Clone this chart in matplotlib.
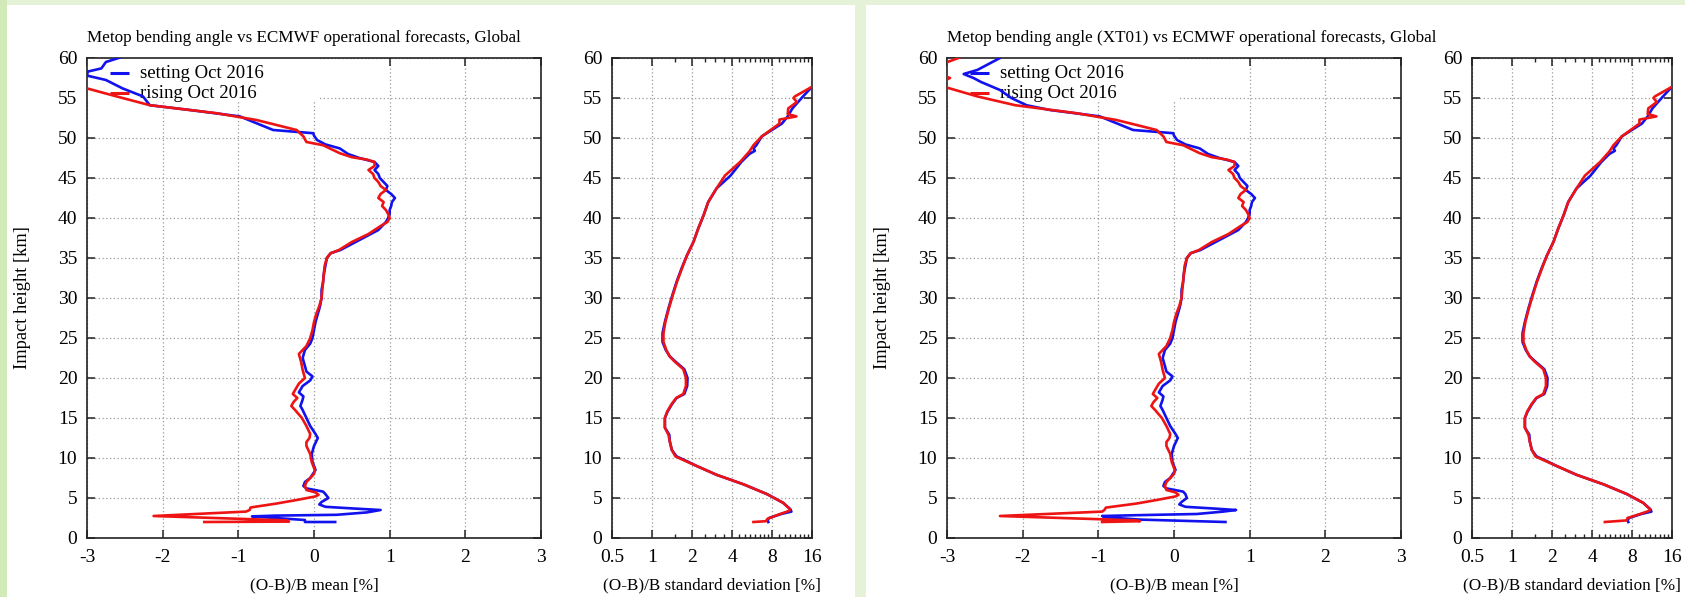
import matplotlib
matplotlib.use("Agg")
import matplotlib.pyplot as plt
from matplotlib.patches import Rectangle
from matplotlib.ticker import FixedLocator, NullFormatter, FixedFormatter

plt.rcParams['font.family'] = ['Liberation Serif', 'DejaVu Serif']

W, H = 1685, 597

# ---------------- data ----------------
titles = ["Metop bending angle vs ECMWF operational forecasts, Global",
          "Metop bending angle (XT01) vs ECMWF operational forecasts, Global"]
series_labels = ["setting Oct 2016", "rising Oct 2016"]
mean_xticks = [-3, -2, -1, 0, 1, 2, 3]
std_xticks = [0.5, 1, 2, 4, 8, 16]
std_xticklabels = ["0.5", "1", "2", "4", "8", "16"]
std_minor_ticks = [1.5, 2.5, 3, 3.5, 4.5, 5, 5.5, 6, 6.5, 7, 7.5, 9, 10, 11, 12, 13, 14, 15]
yticks = list(range(0, 61, 5))

# Panel 1 - setting (blue) mean
p1_set_mean_h = [2.0, 2.0, 2.25, 2.7, 2.8, 2.9, 3.2, 3.5, 3.7, 3.9, 4.2, 4.5, 5.0, 5.5, 5.8, 6.2, 6.5,
                 7.0, 7.5, 8.5, 9.5, 10.5, 11.5, 12.5, 13.0, 14.0, 15.0, 16.0, 16.5, 17.3, 17.7, 18.2,
                 19.0, 19.7, 20.2, 20.8, 21.5, 22.5, 23.5, 24.3, 25.0, 26.0, 27.0, 28.0, 29.0, 30.0,
                 31.0, 32.0, 33.0, 34.0, 35.0, 35.6, 36.0, 36.5, 37.0, 37.5, 38.0, 38.5, 39.0, 39.5,
                 40.0, 40.5, 41.0, 41.5, 42.0, 42.5, 43.0, 43.5, 44.0, 44.5, 45.0, 45.5, 46.0, 46.5,
                 47.0, 47.5, 48.0, 48.7, 49.2, 49.75, 50.3, 50.6, 51.0, 52.0, 52.7, 53.5, 54.1, 55.2,
                 56.2, 57.25, 57.8, 58.3, 58.7, 59.5, 60.1]
p1_set_mean_v = [0.28, -0.12, -0.12, -0.82, -0.5, 0.3, 0.7, 0.88, 0.5, 0.15, 0.07, 0.1, 0.19, 0.15, 0.12,
                 -0.1, -0.14, -0.12, -0.05, 0.02, -0.02, -0.03, 0.0, 0.05, 0.02, -0.05, -0.1, -0.15,
                 -0.18, -0.15, -0.14, -0.2, -0.15, -0.05, -0.02, -0.1, -0.12, -0.15, -0.12, -0.05,
                 -0.02, 0.0, 0.02, 0.05, 0.08, 0.1, 0.1, 0.12, 0.13, 0.15, 0.17, 0.22, 0.35, 0.45,
                 0.55, 0.65, 0.75, 0.85, 0.9, 0.95, 0.98, 1.0, 1.0, 1.02, 1.03, 1.07, 1.02, 0.95,
                 0.97, 0.92, 0.87, 0.85, 0.8, 0.85, 0.8, 0.6, 0.45, 0.34, 0.15, 0.04, 0.0, -0.01,
                 -0.54, -0.8, -0.98, -1.64, -2.17, -2.26, -2.53, -2.75, -3.0, -2.99, -2.81, -2.75, -2.55]

# Panel 1 - rising (red) mean
p1_rise_mean_h = [2.0, 2.05, 2.2, 2.75, 3.3, 3.5, 3.8, 3.9, 4.3, 4.8, 5.2, 5.4, 5.7, 6.0, 6.5, 7.0, 7.5,
                  8.0, 8.5, 9.5, 10.5, 11.5, 12.0, 12.5, 13.0, 14.0, 15.0, 16.0, 16.5, 17.0, 17.5,
                  18.0, 18.5, 19.3, 20.0, 21.0, 22.0, 23.0, 24.0, 25.0, 26.0, 27.0, 28.0, 29.0, 30.0,
                  32.0, 34.0, 35.0, 35.6, 36.0, 37.0, 38.0, 39.0, 39.5, 40.0, 40.5, 41.0, 41.5, 42.0,
                  42.5, 43.0, 43.5, 44.0, 44.5, 45.0, 45.5, 46.0, 46.5, 47.0, 47.3, 47.6, 48.1, 49.1,
                  49.5, 50.2, 51.0, 52.25, 53.1, 54.1, 55.2, 56.2, 56.8]
p1_rise_mean_v = [-1.45, -0.33, -0.35, -2.12, -0.9, -0.85, -0.84, -0.78, -0.5, -0.2, 0.02, 0.06, 0.02,
                  -0.1, -0.12, -0.1, -0.05, 0.0, 0.01, -0.03, -0.05, -0.1, -0.1, -0.06, -0.05, -0.1,
                  -0.16, -0.25, -0.3, -0.27, -0.22, -0.28, -0.25, -0.2, -0.12, -0.15, -0.17, -0.2,
                  -0.1, -0.05, -0.02, 0.0, 0.03, 0.07, 0.1, 0.12, 0.14, 0.17, 0.22, 0.33, 0.5, 0.72,
                  0.88, 0.97, 1.0, 0.98, 0.95, 0.9, 0.92, 0.85, 0.88, 0.95, 0.88, 0.85, 0.8, 0.78,
                  0.72, 0.8, 0.8, 0.7, 0.5, 0.34, 0.12, -0.1, -0.14, -0.23, -0.76, -1.29, -2.17,
                  -2.61, -3.0, -3.2]

# Panel 1 - std
p1_set_std_h = [2.0, 2.2, 2.5, 3.0, 3.3, 3.6, 4.4, 5.5, 6.7, 7.9, 9.0, 9.6, 10.2, 11.0, 12.1, 12.9,
                13.8, 15.0, 15.8, 16.7, 17.5, 18.0, 19.0, 20.0, 21.1, 22.1, 22.7, 23.5, 24.5, 25.6,
                27.0, 28.7, 30.3, 32.0, 33.7, 35.3, 37.0, 38.7, 40.3, 42.0, 43.7, 45.3, 47.0, 48.0,
                48.4, 48.7, 49.1, 50.2, 51.8, 52.7, 53.7, 55.2, 56.4]
p1_set_std_v = [7.5, 7.4, 7.6, 9.4, 11.2, 11.0, 9.7, 7.3, 4.9, 3.06, 2.17, 1.83, 1.53, 1.41, 1.36,
                1.35, 1.25, 1.25, 1.31, 1.41, 1.53, 1.75, 1.84, 1.85, 1.75, 1.49, 1.36, 1.27, 1.2,
                1.2, 1.25, 1.33, 1.42, 1.53, 1.67, 1.83, 2.05, 2.23, 2.44, 2.65, 3.06, 3.9, 4.7,
                5.4, 5.95, 5.8, 6.1, 6.7, 9.5, 10.5, 11.4, 13.7, 16.0]
p1_rise_std_h = [2.0, 2.1, 2.4, 3.0, 3.4, 3.6, 4.4, 5.5, 6.7, 7.9, 9.0, 9.6, 10.2, 11.0, 12.1, 12.9,
                 13.8, 15.0, 15.8, 16.7, 17.5, 18.0, 19.0, 20.0, 21.1, 22.1, 22.7, 23.5, 24.5, 25.6,
                 27.0, 28.7, 30.3, 32.0, 33.7, 35.3, 37.0, 38.7, 40.3, 42.0, 43.7, 45.3, 47.0, 48.3,
                 49.1, 50.2, 51.8, 52.3, 52.7, 53.0, 53.7, 54.5, 55.0, 55.2, 56.4]
p1_rise_std_v = [5.8, 7.2, 7.4, 9.2, 10.8, 10.9, 9.7, 7.3, 4.9, 3.06, 2.17, 1.8, 1.5, 1.41, 1.36,
                 1.33, 1.25, 1.25, 1.3, 1.4, 1.52, 1.72, 1.8, 1.8, 1.72, 1.47, 1.36, 1.28, 1.22,
                 1.22, 1.26, 1.34, 1.43, 1.54, 1.68, 1.83, 2.05, 2.23, 2.44, 2.65, 3.06, 3.54, 4.6,
                 5.4, 5.8, 6.7, 9.1, 9.1, 12.2, 10.5, 10.6, 12.3, 11.6, 11.9, 16.0]

# Panel 2 - setting (blue) mean
p2_set_mean_h = [2.0, 2.3, 2.6, 2.75, 2.85, 3.0, 3.3, 3.5, 3.7, 3.9, 4.2, 4.5, 5.0, 5.5, 5.8, 6.2, 6.5,
                 7.0, 7.5, 8.5, 9.5, 10.5, 11.5, 12.5, 13.0, 14.0, 15.0, 16.0, 16.5, 17.3, 17.7, 18.2,
                 19.0, 19.7, 20.2, 20.8, 21.5, 22.5, 23.5, 24.3, 25.0, 26.0, 27.0, 28.0, 29.0, 30.0,
                 31.0, 32.0, 33.0, 34.0, 35.0, 35.6, 36.0, 36.5, 37.0, 37.5, 38.0, 38.5, 39.0, 39.5,
                 40.0, 40.5, 41.0, 41.5, 42.0, 42.5, 43.0, 43.5, 44.0, 44.5, 45.0, 45.5, 46.0, 46.5,
                 47.0, 47.5, 48.0, 48.7, 49.2, 49.75, 50.3, 50.6, 51.0, 52.0, 52.7, 53.5, 54.1, 55.0,
                 56.0, 57.0, 57.5, 58.0, 58.5, 59.0, 59.5, 60.0]
p2_set_mean_v = [0.68, -0.45, -0.9, -0.95, -0.5, 0.3, 0.65, 0.82, 0.5, 0.15, 0.07, 0.1, 0.17, 0.15, 0.12,
                 -0.1, -0.14, -0.12, -0.05, 0.02, -0.02, -0.03, 0.0, 0.05, 0.02, -0.05, -0.1, -0.15,
                 -0.18, -0.15, -0.14, -0.2, -0.15, -0.05, -0.02, -0.1, -0.12, -0.15, -0.12, -0.05,
                 -0.02, 0.0, 0.02, 0.05, 0.08, 0.1, 0.1, 0.12, 0.13, 0.15, 0.17, 0.22, 0.35, 0.45,
                 0.55, 0.65, 0.75, 0.85, 0.9, 0.95, 0.98, 1.0, 1.0, 1.02, 1.03, 1.07, 1.02, 0.95,
                 0.97, 0.92, 0.87, 0.85, 0.8, 0.85, 0.8, 0.6, 0.45, 0.34, 0.15, 0.04, 0.0, -0.01,
                 -0.54, -0.8, -0.98, -1.64, -1.95, -2.15, -2.3, -2.55, -2.65, -2.78, -2.6, -2.5,
                 -2.4, -2.3]

# Panel 2 - rising (red) mean
p2_rise_mean_h = [2.0, 2.1, 2.2, 2.75, 3.3, 3.5, 3.8, 3.9, 4.3, 4.8, 5.2, 5.4, 5.7, 6.0, 6.5, 7.0, 7.5,
                  8.0, 8.5, 9.5, 10.5, 11.5, 12.0, 12.5, 13.0, 14.0, 15.0, 16.0, 16.5, 17.0, 17.5,
                  18.0, 18.5, 19.3, 20.0, 21.0, 22.0, 23.0, 24.0, 25.0, 26.0, 27.0, 28.0, 29.0, 30.0,
                  32.0, 34.0, 35.0, 35.6, 36.0, 37.0, 38.0, 39.0, 39.5, 40.0, 40.5, 41.0, 41.5, 42.0,
                  42.5, 43.0, 43.5, 44.0, 44.5, 45.0, 45.5, 46.0, 46.5, 47.0, 47.3, 47.6, 48.1, 49.1,
                  49.5, 50.2, 51.0, 52.25, 53.1, 54.1, 55.2, 56.3, 56.9, 57.5, 58.0, 58.8, 59.3, 60.1]
p2_rise_mean_v = [-0.95, -0.45, -0.5, -2.3, -0.95, -0.92, -0.9, -0.82, -0.5, -0.2, 0.02, 0.06, 0.02,
                  -0.1, -0.12, -0.1, -0.05, 0.0, 0.01, -0.03, -0.05, -0.1, -0.1, -0.06, -0.05, -0.1,
                  -0.16, -0.25, -0.3, -0.27, -0.22, -0.28, -0.25, -0.2, -0.12, -0.15, -0.17, -0.2,
                  -0.1, -0.05, -0.02, 0.0, 0.03, 0.07, 0.1, 0.12, 0.14, 0.17, 0.22, 0.33, 0.5, 0.72,
                  0.88, 0.97, 1.0, 0.98, 0.95, 0.9, 0.92, 0.85, 0.88, 0.95, 0.88, 0.85, 0.8, 0.78,
                  0.72, 0.8, 0.8, 0.7, 0.5, 0.34, 0.12, -0.1, -0.14, -0.23, -0.76, -1.29, -2.1,
                  -2.6, -3.0, -3.1, -2.96, -3.1, -3.3, -3.05, -2.82]

# Panel 2 - std
p2_set_std_h = p1_set_std_h
p2_set_std_v = p1_set_std_v
p2_rise_std_h = [2.0, 2.2, 2.5, 3.0, 3.4, 3.6, 4.4, 5.5, 6.7, 7.9, 9.0, 9.6, 10.2, 11.0, 12.1, 12.9,
                 13.8, 15.0, 15.8, 16.7, 17.5, 18.0, 19.0, 20.0, 21.1, 22.1, 22.7, 23.5, 24.5, 25.6,
                 27.0, 28.7, 30.3, 32.0, 33.7, 35.3, 37.0, 38.7, 40.3, 42.0, 43.7, 45.3, 47.0, 48.3,
                 49.1, 50.2, 51.8, 52.3, 52.7, 53.0, 53.7, 54.5, 55.0, 55.2, 56.4]
p2_rise_std_v = [5.0, 7.3, 7.4, 9.2, 10.8, 10.9, 9.7, 7.3, 4.9, 3.06, 2.17, 1.8, 1.5, 1.41, 1.36,
                 1.33, 1.25, 1.25, 1.3, 1.4, 1.52, 1.72, 1.8, 1.8, 1.72, 1.47, 1.36, 1.28, 1.22,
                 1.22, 1.26, 1.34, 1.43, 1.54, 1.68, 1.83, 2.05, 2.23, 2.44, 2.65, 3.06, 3.54, 4.6,
                 5.4, 5.8, 6.7, 9.1, 9.1, 12.2, 10.5, 10.6, 12.3, 11.6, 11.9, 16.0]

panels = [
    dict(title=titles[0],
         mean=[(p1_set_mean_h, p1_set_mean_v), (p1_rise_mean_h, p1_rise_mean_v)],
         std=[(p1_set_std_h, p1_set_std_v), (p1_rise_std_h, p1_rise_std_v)]),
    dict(title=titles[1],
         mean=[(p2_set_mean_h, p2_set_mean_v), (p2_rise_mean_h, p2_rise_mean_v)],
         std=[(p2_set_std_h, p2_set_std_v), (p2_rise_std_h, p2_rise_std_v)]),
]

# ---------------- styling ----------------
BLUE = '#1212ee'
RED = '#ee1414'
colors = [BLUE, RED]
FS = 12.3        # title / x labels
FS_TICK = 14     # tick labels
FS_KEY = 13.5    # key
FS_YLAB = 13.3   # y label
LW = 1.9

fig = plt.figure(figsize=(W / 100, H / 100), dpi=100)
fig.patch.set_facecolor('#e5f2d8')


def fx(px):
    return px / W


def fy(py):
    return 1 - py / H


# left strip (slightly stronger green)
fig.patches.append(Rectangle((0, 0), fx(7), 1, transform=fig.transFigure,
                             facecolor='#d2eab8', edgecolor='none', zorder=-10))
# white panels
panel_offsets = [0, 860]
for off, (x0, x1) in zip(panel_offsets, [(7, 855), (866, 1720)]):
    fig.patches.append(Rectangle((fx(x0), 0), fx(x1 - x0), fy(5), transform=fig.transFigure,
                                 facecolor='white', edgecolor='none', zorder=-10))

AX_TOP, AX_BOT = 58, 538


def style_axes(ax):
    for s in ax.spines.values():
        s.set_linewidth(1.2)
        s.set_color('#222222')
    ax.tick_params(which='major', direction='in', length=6, width=1.1, top=True, right=True,
                   labelsize=FS_TICK, pad=7, colors='#222222', labelcolor='black')
    ax.tick_params(which='minor', direction='in', length=3, width=1.0, top=True, right=True,
                   colors='#222222')
    ax.tick_params(axis='x', which='major', pad=8)
    ax.grid(True, which='major', color='#9a9a9a', linestyle=(0, (1, 2)), linewidth=0.9)
    ax.set_axisbelow(True)


for off, pan in zip(panel_offsets, panels):
    # mean axes
    ax = fig.add_axes([fx(87 + off), fy(AX_BOT), fx(454), (AX_BOT - AX_TOP) / H])
    ax.set_facecolor('none')
    ax.set_xlim(-3, 3)
    ax.set_ylim(0, 60)
    ax.set_xticks(mean_xticks)
    ax.set_xticklabels([str(t) for t in mean_xticks])
    ax.set_yticks(yticks)
    style_axes(ax)
    # opaque key area (hides the grid)
    ax.add_patch(Rectangle((0, (AX_BOT - 102) / 480), (318 - 87) / 454, 1 - (AX_BOT - 102) / 480,
                           transform=ax.transAxes, facecolor='white', edgecolor='none', zorder=1.5))
    for (h, v), c in zip(pan['mean'], colors):
        ax.plot(v, h, color=c, lw=LW, zorder=3, solid_joinstyle='round')
    # key
    for i, (lab, c) in enumerate(zip(series_labels, colors)):
        yk = (AX_BOT - (73 + 20 * i)) / 480
        ax.plot([(110 - 87) / 454, (129 - 87) / 454], [yk, yk], transform=ax.transAxes,
                color=c, lw=LW + 0.3, zorder=2, solid_capstyle='butt')
        ax.text((140 - 87) / 454, yk, lab, transform=ax.transAxes, fontsize=FS_KEY,
                va='center', ha='left', zorder=2)
    ax.set_xlabel("(O-B)/B mean [%]", fontsize=FS, labelpad=8)
    ax.set_ylabel("Impact height [km]", fontsize=FS_YLAB, labelpad=19)
    fig.text(fx(87 + off), fy(38), pan['title'], fontsize=FS, ha='left', va='center')

    # std axes
    ax2 = fig.add_axes([fx(612 + off), fy(AX_BOT), fx(200), (AX_BOT - AX_TOP) / H])
    ax2.set_facecolor('none')
    ax2.set_xscale('log', base=2)
    ax2.set_xlim(0.5, 16)
    ax2.set_ylim(0, 60)
    ax2.xaxis.set_major_locator(FixedLocator(std_xticks))
    ax2.xaxis.set_major_formatter(FixedFormatter(std_xticklabels))
    ax2.xaxis.set_minor_locator(FixedLocator(std_minor_ticks))
    ax2.xaxis.set_minor_formatter(NullFormatter())
    ax2.set_yticks(yticks)
    style_axes(ax2)
    for (h, v), c in zip(pan['std'], colors):
        ax2.plot(v, h, color=c, lw=LW, zorder=3, solid_joinstyle='round')
    ax2.set_xlabel("(O-B)/B standard deviation [%]", fontsize=FS, labelpad=8)

fig.savefig("out.png", dpi=100, facecolor=fig.get_facecolor())
